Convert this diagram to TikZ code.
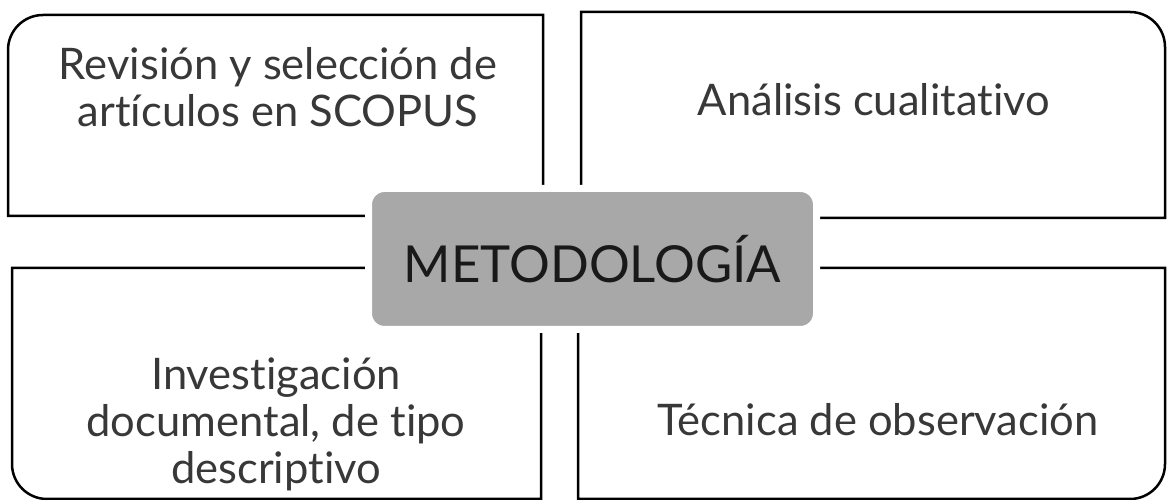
\documentclass[tikz,border=0pt]{standalone}
\usepackage{fontspec}
\setmainfont{Lato}[Ligatures=NoCommon]
\tikzset{
    every node/.style={
        font=\fontsize{43.5}{47}\selectfont,
        text=black!78
    },
    quad/.style={
        draw=black,
        line width=2.5pt
    },
    quadtext/.style={
        align=center
    },
    hub/.style={
        rectangle,
        rounded corners=16pt,
        fill=black!34,
        draw=white,
        line width=7pt,
        minimum width=448pt,
        minimum height=141pt,
        text=black!90,
        font=\fontsize{51}{56}\selectfont
    }
}

\begin{document}
\begin{tikzpicture}[x=1pt, y=1pt]
    \useasboundingbox (0,0) rectangle (1168,500);

    % four quadrants, each with one rounded outer corner
    \draw [quad] (8,284) -- (8,450) arc[start angle=180, end angle=90, radius=35pt] -- (543,485) -- (543,284) -- cycle;
    \draw [quad] (581,282) -- (581,488) -- (1130,488) arc[start angle=90, end angle=0, radius=35pt] -- (1165,282) -- cycle;
    \draw [quad] (541,232) -- (12,232) -- (12,36) arc[start angle=180, end angle=270, radius=35pt] -- (541,1) -- cycle;
    \draw [quad] (578,232) -- (1165,232) -- (1165,36) arc[start angle=0, end angle=-90, radius=35pt] -- (578,1) -- cycle;

    \node (rev) at (278, 413) [quadtext] {Revisión y selección de\\artículos en SCOPUS};
    \node (ana) at (874, 400) [quadtext] {Análisis cualitativo};
    \node (inv) at (276, 76) [quadtext] {Investigación\\documental, de tipo\\descriptivo};
    \node (tec) at (878, 80) [quadtext] {Técnica de observación};

    \node (met) at (592.5, 241) [hub] {METODOLOGÍA};
\end{tikzpicture}
\end{document}
